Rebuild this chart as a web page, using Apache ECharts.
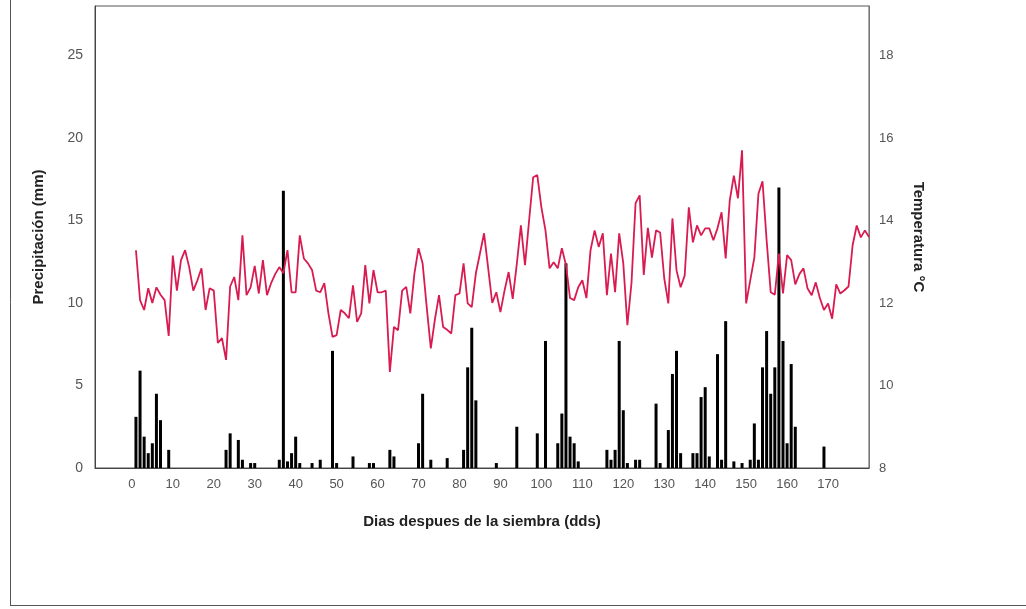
<!DOCTYPE html>
<html>
<head>
<meta charset="utf-8">
<script src="https://cdn.jsdelivr.net/npm/echarts@6/dist/echarts.min.js"></script>
<style>
html,body{margin:0;padding:0;background:#fff;}
#chart{width:1026px;height:609px;}
</style>
</head>
<body>
<div id="chart"></div>
<script>
// Precipitation (mm) by day after sowing (days with rain only)
const rainDays = [1,2,3,4,5,6,7,9,
  23,24,26,27,29,30,
  36,37,38,39,40,41,44,46,
  49,50,54,58,59,63,64,
  70,71,73,77,
  81,82,83,84,89,94,
  99,101,104,105,106,107,108,109,
  116,117,118,119,120,121,123,124,
  128,129,131,132,133,134,137,138,139,140,141,143,144,145,147,149,151,152,153,154,155,156,157,158,159,160,161,162,169];
const rainMm = [3.1,5.9,1.9,0.9,1.5,4.5,2.9,1.1,
  1.1,2.1,1.7,0.5,0.3,0.3,
  0.5,16.8,0.4,0.9,1.9,0.3,0.3,0.5,
  7.1,0.3,0.7,0.3,0.3,1.1,0.7,
  1.5,4.5,0.5,0.6,
  1.1,6.1,8.5,4.1,0.3,2.5,
  2.1,7.7,1.5,3.3,12.4,1.9,1.5,0.4,
  1.1,0.5,1.1,7.7,3.5,0.3,0.5,0.5,
  3.9,0.3,2.3,5.7,7.1,0.9,0.9,0.9,4.3,4.9,0.7,6.9,0.5,8.9,0.4,0.3,0.5,2.7,0.5,6.1,8.3,4.5,6.1,17.0,7.7,1.5,6.3,2.5,1.3];

// Mean temperature (°C), days 1..180
const tempStartDay = 1;
const tempC = [
  13.28,12.07,11.83,12.36,12.0,12.38,12.2,12.07,11.2,13.15,
  12.3,13.04,13.28,12.87,12.3,12.55,12.84,11.83,12.36,12.3,
  11.03,11.15,10.62,12.4,12.63,12.07,13.64,12.19,12.38,12.9,
  12.23,13.04,12.19,12.48,12.7,12.87,12.72,13.28,12.26,12.26,
  13.64,13.08,12.96,12.8,12.3,12.26,12.48,11.75,11.18,11.22,
  11.83,11.75,11.63,12.43,11.54,11.75,12.92,11.99,12.8,12.26,
  12.26,12.3,10.33,11.42,11.34,12.3,12.39,11.75,12.72,13.33,
  12.96,11.9,10.9,11.6,12.19,11.42,11.35,11.26,12.19,12.23,
  12.96,11.99,11.9,12.72,13.2,13.69,12.85,12.0,12.26,11.78,
  12.3,12.75,12.1,12.95,13.88,12.92,14.0,15.05,15.1,14.32,
  13.76,12.84,12.99,12.84,13.33,12.92,12.12,12.07,12.38,12.55,
  12.12,13.28,13.76,13.36,13.69,12.19,13.2,12.26,13.69,12.96,
  11.46,12.48,14.42,14.61,12.68,13.82,13.1,13.76,13.71,12.6,
  11.99,14.05,12.79,12.38,12.67,14.32,13.47,13.88,13.64,13.81,
  13.81,13.52,13.81,14.2,13.08,14.49,15.09,14.54,15.7,11.99,
  12.55,13.1,14.65,14.95,13.52,12.26,12.2,13.2,12.23,13.16,
  13.04,12.45,12.7,12.84,12.35,12.19,12.5,12.12,11.83,11.99,
  11.62,12.45,12.23,12.31,12.4,13.4,13.88,13.59,13.76,13.6
];

const xTicks = [0,10,20,30,40,50,60,70,80,90,100,110,120,130,140,150,160,170];

const barData = rainDays.map((d,i)=>[d, rainMm[i]]);
const lineData = tempC.map((t,i)=>[tempStartDay+i, t]);

const chart = echarts.init(document.getElementById('chart'), null, {renderer:'canvas'});
const FONT = '"Liberation Sans", Arial, sans-serif';
chart.setOption({
  animation:false,
  backgroundColor:'#fff',
  textStyle:{fontFamily:FONT},
  grid:{left:95, right:157, top:6, bottom:141, show:true, borderColor:'#555', borderWidth:1, backgroundColor:'transparent'},
  xAxis:{
    type:'value', min:-9, max:180,
    name:'Dias despues de la siembra (dds)', nameLocation:'middle', nameGap:46,
    nameTextStyle:{fontFamily:FONT, fontSize:15, fontWeight:'bold', color:'#222'},
    axisLine:{show:true, onZero:false, lineStyle:{color:'#444', width:1}},
    axisTick:{show:false},
    splitLine:{show:false},
    axisLabel:{customValues:xTicks, color:'#555', fontSize:13, margin:10, fontFamily:FONT}
  },
  yAxis:[{
    type:'value', min:0, max:28, interval:5, position:'left',
    name:'Precipitación (mm)', nameLocation:'middle', nameGap:49,
    nameTextStyle:{fontFamily:FONT, fontSize:15, fontWeight:'bold', color:'#222'},
    axisLine:{show:true, onZero:false, lineStyle:{color:'#444'}},
    axisTick:{show:false}, splitLine:{show:false},
    axisLabel:{showMaxLabel:false, color:'#555', fontSize:14, margin:12, fontFamily:FONT}
  },{
    type:'value', min:8, max:19.2, interval:2, position:'right',
    name:'Temperatura °C', nameLocation:'middle', nameGap:42, nameRotate:-90,
    nameTextStyle:{fontFamily:FONT, fontSize:15, fontWeight:'bold', color:'#222'},
    axisLine:{show:true, onZero:false, lineStyle:{color:'#777'}},
    axisTick:{show:false}, splitLine:{show:false},
    axisLabel:{showMaxLabel:false, color:'#555', fontSize:13, margin:10, fontFamily:FONT}
  }],
  series:[{
    type:'bar', yAxisIndex:0, data:barData, barWidth:3,
    itemStyle:{color:'#000'}, z:2
  },{
    type:'line', yAxisIndex:1, data:lineData, showSymbol:false, symbol:'none',
    lineStyle:{color:'#d81b50', width:1.8}, itemStyle:{color:'#d81b50'}, z:3
  }],
  graphic:[
    {type:'line', shape:{x1:10.5,y1:0,x2:10.5,y2:605.5}, style:{stroke:'#555', lineWidth:1}, silent:true},
    {type:'line', shape:{x1:10,y1:605.5,x2:1026,y2:605.5}, style:{stroke:'#555', lineWidth:1}, silent:true}
  ]
});
</script>
</body>
</html>
